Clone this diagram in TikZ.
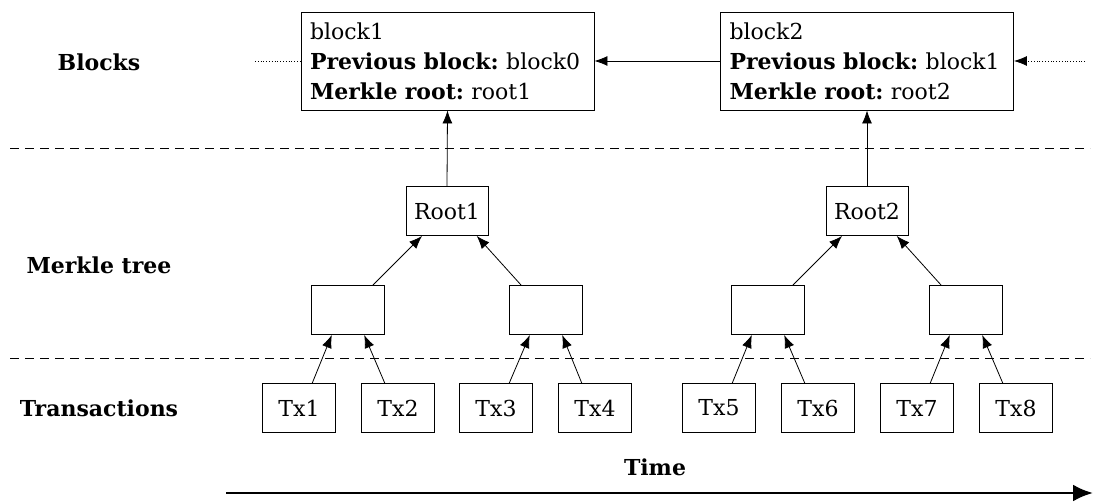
\documentclass[tikz,border=0pt]{standalone}
\usepackage{fontspec}
\setmainfont{DejaVu Serif}
\usetikzlibrary{arrows.meta,positioning}
\frenchspacing
\newcommand{\blkfont}{\fontsize{22}{30}\selectfont}

\tikzset{
  box/.style={draw, line width=0.9pt, minimum width=73pt, minimum height=49pt, inner sep=0pt, font=\blkfont},
  rootbox/.style={box, minimum width=82pt},
  blockbox/.style={draw, line width=0.9pt, minimum height=98pt, text width=275pt, inner sep=9pt, align=left, font=\blkfont},
  lbl/.style={font=\bfseries\blkfont},
  sep/.style={dashed, dash pattern=on 9pt off 6pt, line width=0.8pt},
}

\begin{document}
\begin{tikzpicture}[x=1pt,y=-1pt]
\useasboundingbox (0,0) rectangle (1094,502);
% row labels
\node[lbl] (L1) at (99,62) {Blocks};
\node[lbl] (L2) at (99,265) {Merkle tree};
\node[lbl] (L3) at (99,408) {Transactions};
\node[lbl] (LT) at (655,467) {Time};
% blocks
\node[blockbox] (B1) at (447.5,61) {block1\\\textbf{Previous block:} block0\\\textbf{Merkle root:} root1};
\node[blockbox] (B2) at (867,61) {block2\\\textbf{Previous block:} block1\\\textbf{Merkle root:} root2};
% merkle roots
\node[rootbox] (R1) at (447,211) {Root1};
\node[rootbox] (R2) at (867,211) {Root2};
% inner hashes
\node[box] (H1) at (348,310) {};
\node[box] (H2) at (546,310) {};
\node[box] (H3) at (768,310) {};
\node[box] (H4) at (966,310) {};
% transactions
\node[box] (T1) at (299,408) {Tx1};
\node[box] (T2) at (398,408) {Tx2};
\node[box] (T3) at (496,408) {Tx3};
\node[box] (T4) at (595,408) {Tx4};
\node[box] (T5) at (719,408) {Tx5};
\node[box] (T6) at (818,408) {Tx6};
\node[box] (T7) at (917,408) {Tx7};
\node[box] (T8) at (1016,408) {Tx8};
% free ends
\coordinate (S1a) at (10,148);
\coordinate (S1b) at (1090,148);
\coordinate (S2a) at (10,358);
\coordinate (S2b) at (1090,358);
\coordinate (D0) at (255,61);
\coordinate (D1) at (1085,61);
\coordinate (Ta) at (226,493);
\coordinate (Tb) at (1093,493);

\draw[sep] (S1a) -- (S1b);
\draw[sep] (S2a) -- (S2b);
\draw[dotted, line width=0.8pt] (D0) -- (B1.west);
\path[-{Latex[length=13pt,width=10pt]}, line width=0.8pt]
(D1) edge[dotted] (B2.east)
(B2.west) edge (B1.east)
(R1.north) edge (B1.south)
(R2.north) edge (B2.south)
(H1.45) edge (R1.225)
(H2.135) edge (R1.320)
(H3.45) edge (R2.225)
(H4.135) edge (R2.320)
(T1.62) edge (H1.237)
(T2.118) edge (H1.303)
(T3.62) edge (H2.237)
(T4.118) edge (H2.303)
(T5.62) edge (H3.237)
(T6.118) edge (H3.303)
(T7.62) edge (H4.237)
(T8.118) edge (H4.303);
\draw[-{Latex[length=20pt,width=17pt]}, line width=2.8pt] (Ta) -- (Tb);
\end{tikzpicture}
\end{document}
